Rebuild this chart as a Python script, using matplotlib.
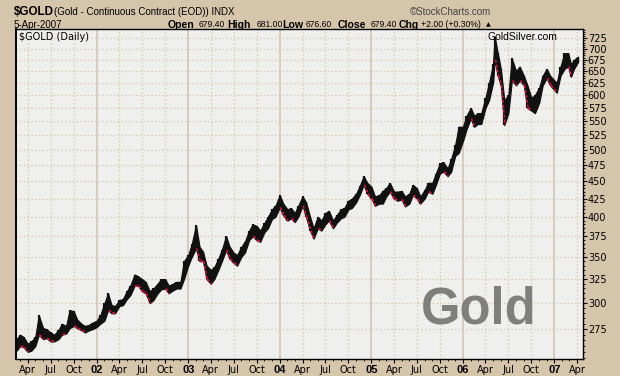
import numpy as np
import pandas as pd
import matplotlib
matplotlib.use('Agg')
import matplotlib.pyplot as plt
import matplotlib.dates as mdates
from matplotlib.ticker import FixedLocator, NullFormatter

# semi-monthly price ranges
dates = [
    '2001-02-15', '2001-03-01', '2001-03-15', '2001-04-01', '2001-04-15', '2001-05-01', '2001-05-15',
    '2001-06-01', '2001-06-15', '2001-07-01', '2001-07-15', '2001-08-01', '2001-08-15', '2001-09-01',
    '2001-09-15', '2001-10-01', '2001-10-15', '2001-11-01', '2001-11-15', '2001-12-01', '2001-12-15',
    '2002-01-01', '2002-01-15', '2002-02-01', '2002-02-15', '2002-03-01', '2002-03-15', '2002-04-01',
    '2002-04-15', '2002-05-01', '2002-05-15', '2002-06-01', '2002-06-15', '2002-07-01', '2002-07-15',
    '2002-08-01', '2002-08-15', '2002-09-01', '2002-09-15', '2002-10-01', '2002-10-15', '2002-11-01',
    '2002-11-15', '2002-12-01', '2002-12-15',
    '2003-01-01', '2003-01-15', '2003-02-01', '2003-02-15', '2003-03-01', '2003-03-15', '2003-04-01',
    '2003-04-15', '2003-05-01', '2003-05-15', '2003-06-01', '2003-06-15', '2003-07-01', '2003-07-15',
    '2003-08-01', '2003-08-15', '2003-09-01', '2003-09-15', '2003-10-01', '2003-10-15', '2003-11-01',
    '2003-11-15', '2003-12-01', '2003-12-15',
    '2004-01-01', '2004-01-15', '2004-02-01', '2004-02-15', '2004-03-01', '2004-03-15', '2004-04-01',
    '2004-04-15', '2004-05-01', '2004-05-15', '2004-06-01', '2004-06-15', '2004-07-01', '2004-07-15',
    '2004-08-01', '2004-08-15', '2004-09-01', '2004-09-15', '2004-10-01', '2004-10-15', '2004-11-01',
    '2004-11-15', '2004-12-01', '2004-12-15',
    '2005-01-01', '2005-01-15', '2005-02-01', '2005-02-15', '2005-03-01', '2005-03-15', '2005-04-01',
    '2005-04-15', '2005-05-01', '2005-05-15', '2005-06-01', '2005-06-15', '2005-07-01', '2005-07-15',
    '2005-08-01', '2005-08-15', '2005-09-01', '2005-09-15', '2005-10-01', '2005-10-15', '2005-11-01',
    '2005-11-15', '2005-12-01', '2005-12-15',
    '2006-01-01', '2006-01-15', '2006-02-01', '2006-02-15', '2006-03-01', '2006-03-15', '2006-04-01',
    '2006-04-15', '2006-05-01', '2006-05-08', '2006-05-20', '2006-06-01', '2006-06-15', '2006-07-01',
    '2006-07-15', '2006-08-01', '2006-08-15', '2006-09-01', '2006-09-15', '2006-10-01', '2006-10-15',
    '2006-11-01', '2006-11-15', '2006-12-01', '2006-12-15',
    '2007-01-10', '2007-01-25', '2007-02-10', '2007-02-25', '2007-03-08', '2007-03-20', '2007-04-05',
]
lows = [
    256, 260, 259, 255, 256, 260, 270, 266, 267, 264, 264, 266, 270, 271, 276, 278, 276, 274, 272, 274, 275,
    277, 280, 283, 293, 290, 290, 297, 298, 304, 308, 318, 318, 312, 310, 300, 303, 310, 314, 315, 310, 313,
    315, 315, 325,
    340, 350, 360, 345, 345, 325, 320, 325, 335, 345, 358, 348, 343, 340, 350, 355, 370, 375, 370, 368, 380,
    385, 397, 400,
    413, 402, 395, 398, 393, 400, 415, 400, 382, 372, 385, 382, 390, 395, 385, 392, 398, 400, 410, 412, 420,
    430, 445, 432,
    425, 415, 418, 418, 428, 435, 425, 422, 424, 414, 418, 430, 425, 418, 425, 435, 432, 445, 462, 465, 458,
    465, 490, 495,
    515, 535, 555, 540, 545, 545, 575, 590, 625, 675, 640, 620, 543, 565, 630, 620, 630, 620, 575, 570, 565,
    585, 620, 635, 620,
    605, 640, 655, 660, 638, 655, 670,
]
highs = [
    266, 270, 268, 262, 264, 268, 288, 276, 275, 272, 270, 274, 280, 278, 293, 292, 284, 280, 278, 279, 281,
    283, 288, 300, 310, 298, 297, 303, 304, 312, 318, 330, 328, 325, 322, 312, 315, 320, 325, 325, 318, 320,
    322, 322, 345,
    352, 365, 389, 362, 356, 340, 335, 338, 348, 358, 375, 362, 355, 352, 362, 368, 382, 390, 388, 382, 392,
    400, 410, 415,
    430, 418, 410, 412, 405, 415, 428, 420, 400, 385, 400, 395, 405, 408, 395, 402, 410, 412, 422, 425, 432,
    443, 458, 448,
    442, 428, 430, 436, 440, 448, 435, 435, 436, 428, 432, 445, 440, 428, 437, 448, 448, 462, 478, 480, 470,
    485, 508, 540,
    540, 560, 575, 560, 565, 565, 595, 625, 665, 728, 690, 655, 590, 600, 678, 650, 660, 640, 620, 595, 600,
    615, 640, 655, 640,
    625, 660, 690, 690, 665, 675, 682,
]

y_ticks = list(range(275, 726, 25))

tan = '#d5c5ab'
grid_c = '#d9c4a4'
year_c = '#d2c6b2'

d = pd.to_datetime(dates)
num = mdates.date2num(d)
lo = np.array(lows, dtype=float)
hi = np.array(highs, dtype=float)

fig = plt.figure(figsize=(6.2, 3.76), dpi=100, facecolor=tan)
ax = fig.add_axes([16 / 620, 17 / 376, 567 / 620, 330 / 376])
ax.set_facecolor('#efefed')

ax.set_yscale('log')
ax.set_ylim(249, 748)
ax.set_xlim(mdates.date2num(pd.Timestamp('2001-02-13')), mdates.date2num(pd.Timestamp('2007-04-25')))

# grid
quarters = pd.date_range('2001-04-01', '2007-04-01', freq='QS-JAN')
for v in y_ticks:
    ax.axhline(v, color=grid_c, lw=0.9, ls=(0, (1, 2)), zorder=0)
for q in quarters:
    if q.month == 1:
        ax.axvline(q, color=year_c, lw=1.2, zorder=0)
    else:
        ax.axvline(q, color=grid_c, lw=0.9, ls=(0, (1, 2)), zorder=0)

# price band
ax.fill_between(num, lo, hi, color='#111111', edgecolor='#111111', linewidth=0.9, zorder=2)
ax.vlines(num, lo, hi, color='#111111', lw=1.6, zorder=2)
mid = (lo + hi) / 2
for i in range(1, len(num)):
    if mid[i] < mid[i - 1]:
        ax.plot(num[i - 1:i + 1] + 3, lo[i - 1:i + 1], color='#e0103c', lw=1.1,
                ls=(0, (2.0, 1.2)), solid_capstyle='butt', zorder=3)

# axes
for s in ax.spines.values():
    s.set_color('black')
    s.set_linewidth(1.0)
ax.spines['left'].set_linewidth(1.4)

ax.yaxis.set_major_locator(FixedLocator(y_ticks))
ax.set_yticklabels([str(v) for v in y_ticks])
ax.yaxis.set_minor_locator(FixedLocator(list(range(250, 750, 5))))
ax.yaxis.set_minor_formatter(NullFormatter())
ax.tick_params(axis='y', which='both', left=False, right=True, labelleft=False, labelright=True,
               direction='out', pad=0.5, labelsize=7, colors='black')
ax.tick_params(axis='y', which='major', length=3, width=0.8)
ax.tick_params(axis='y', which='minor', length=1.5, width=0.6)

ax.set_xticks(mdates.date2num(quarters))
ax.set_xticklabels([q.strftime('%y') if q.month == 1 else q.strftime('%b') for q in quarters])
ax.xaxis.set_minor_locator(mdates.MonthLocator())
ax.xaxis.set_minor_formatter(NullFormatter())
ax.tick_params(axis='x', which='major', length=3, width=0.8, pad=1.5, labelsize=7)
ax.tick_params(axis='x', which='minor', length=1.5, width=0.6)
for lab, q in zip(ax.get_xticklabels(), quarters):
    if q.month == 1:
        lab.set_fontfamily('Liberation Sans')
        lab.set_fontweight('bold')
        lab.set_fontsize(8)

# texts
def px(x, y):
    return x / 620, 1 - y / 376

fig.text(*px(14, 12), '$GOLD', fontsize=8.4, fontweight='bold', family='Liberation Sans', va='center')
fig.text(*px(54, 12), '(Gold - Continuous Contract (EOD)) INDX', fontsize=7, family='Liberation Sans', va='center')
fig.text(*px(491, 12), '\u00a9StockCharts.com', fontsize=7, family='Liberation Sans', color='#444444',
         va='center', ha='right')
fig.text(*px(14, 24.5), '5-Apr-2007', fontsize=7, family='Liberation Sans', va='center')

header = [
    (168, 'Open', True), (199, '679.40', False), (227, 'High', True), (257, '681.00', False),
    (282, 'Low', True), (306, '676.60', False), (338, 'Close', True), (371, '679.40', False),
    (399, 'Chg', True), (421, '+2.00 (+0.30%)', False),
]
for x, s, b in header:
    fig.text(*px(x, 24.5), s, fontsize=7.6 if b else 6.2, fontweight='bold' if b else 'normal',
             family='Liberation Sans', va='center')
fig.text(*px(486, 24.5), '\u25b2', fontsize=4.5, family='DejaVu Sans', va='center')

fig.text(*px(19, 37), '$GOLD (Daily)', fontsize=7, family='DejaVu Sans', va='center')
fig.text(*px(487, 37.5), 'GoldSilver.com', fontsize=7.5, family='Liberation Sans', va='center')
fig.text(*px(421, 324), 'Gold', fontsize=36.5, fontweight='bold', family='Liberation Sans',
         color='#7f7f7b', va='baseline')

fig.savefig('out.png', dpi=100, facecolor=tan)
